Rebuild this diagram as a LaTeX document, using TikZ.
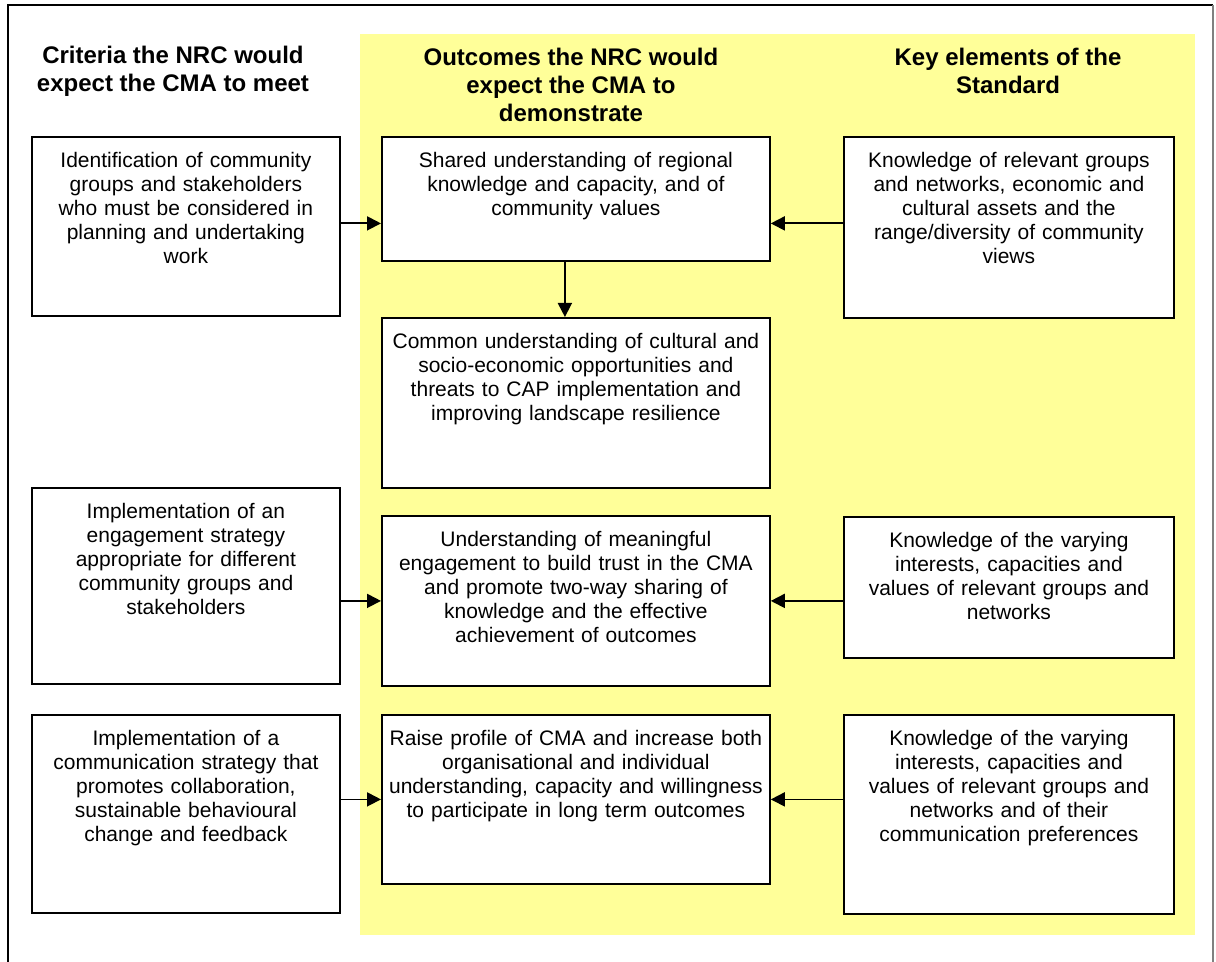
\documentclass[tikz,border=0pt]{standalone}
\usepackage{fontspec}
\setmainfont{Liberation Sans}
\usetikzlibrary{arrows.meta}
\definecolor{paleyellow}{HTML}{FFFF99}
\begin{document}
\begin{tikzpicture}[x=0.5pt, y=-0.5pt]
\tikzset{ >={Triangle[length=7pt,width=7pt]},
  box/.style={draw, line width=0.9pt, fill=white, anchor=north west, inner sep=0pt,
    align=center, font=\fontsize{10.5}{12}\selectfont, text height=15.5pt},
  crit/.style={box, text width=154pt},
  outc/.style={box, text width=194pt},
  keyel/.style={box, text width=165pt},
  head/.style={align=center, font=\fontsize{12}{14}\selectfont\bfseries},
  link/.style={->, line width=0.9pt},
}
\useasboundingbox (0,0) rectangle (1216,962);

%\draw [lightgray, dashed](0,0) grid[step=50] (1216,962);

\fill [paleyellow] (360,34) rectangle (1195,935);
\draw [line width=1pt] (8,962) -- (8,5) -- (1213,5);
\draw [gray, line width=0.6pt] (1213,5) -- (1213,962);

\node [head] (H1) at (173,71)  {Criteria the NRC would\\expect the CMA to meet};
\node [head] (H2) at (571,85)  {Outcomes the NRC would\\expect the CMA to\\demonstrate};
\node [head] (H3) at (1008,71) {Key elements of the\\Standard};

\node [crit, text depth=74pt]   (C1) at (31,136) {Identification of community\\groups and stakeholders\\who must be considered in\\planning and undertaking\\work};
\node [crit, text depth=82.5pt] (C2) at (31,487) {Implementation of an\\engagement strategy\\appropriate for different\\community groups and\\stakeholders};
\node [crit, text depth=83.5pt] (C3) at (31,714) {Implementation of a\\communication strategy that\\promotes collaboration,\\sustainable behavioural\\change and feedback};

\node [outc, text depth=46.5pt] (O1) at (381,136) {Shared understanding of regional\\knowledge and capacity, and of\\community values};
\node [outc, text depth=69.5pt] (O2) at (381,317) {Common understanding of cultural and\\socio-economic opportunities and\\threats to CAP implementation and\\improving landscape resilience};
\node [outc, text depth=69.5pt] (O3) at (381,515) {Understanding of meaningful\\engagement to build trust in the CMA\\and promote two-way sharing of\\knowledge and the effective\\achievement of outcomes};
\node [outc, text depth=69pt]   (O4) at (381,714) {Raise profile of CMA and increase both\\organisational and individual\\understanding, capacity and willingness\\to participate in long term outcomes};

\node [keyel, text depth=75pt]  (K1) at (843,136) {Knowledge of relevant groups\\and networks, economic and\\cultural assets and the\\range/diversity of community\\views};
\node [keyel, text depth=55pt]  (K2) at (843,516) {Knowledge of the varying\\interests, capacities and\\values of relevant groups and\\networks};
\node [keyel, text depth=84pt]  (K3) at (843,714) {Knowledge of the varying\\interests, capacities and\\values of relevant groups and\\networks and of their\\communication preferences};

\draw [link] ([yshift=1.5pt]C1.east) -- ([yshift=1.5pt]C1.east -| O1.west);
\draw [link] ([yshift=2pt]K1.west) -- ([yshift=2pt]K1.west -| O1.east);
\draw [link] ([xshift=-5.5pt]O1.south) -- ([xshift=-5.5pt]O2.north);

\draw [link] (O3.west -| C2.east) -- (O3.west);
\draw [link] (O3.east -| K2.west) -- (O3.east);

\draw [link] (O4.west -| C3.east) -- (O4.west);
\draw [link] (O4.east -| K3.west) -- (O4.east);
\end{tikzpicture}
\end{document}
